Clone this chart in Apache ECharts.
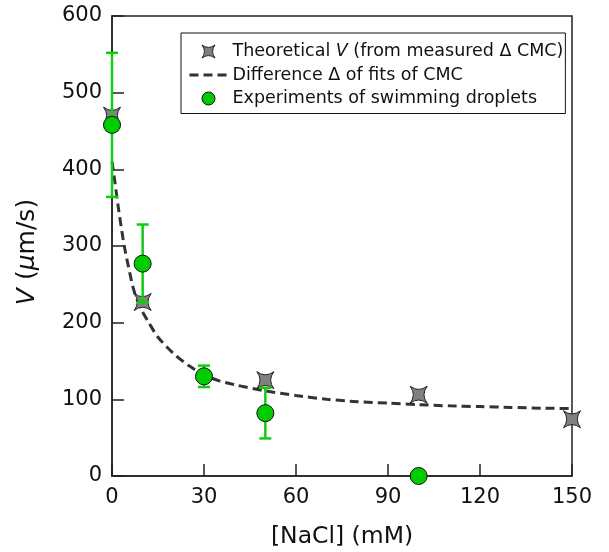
<!DOCTYPE html>
<html><head><meta charset="utf-8">
<script src="https://cdn.jsdelivr.net/npm/echarts@6/dist/echarts.min.js"></script>
<style>html,body{margin:0;padding:0;background:#fff}#c{width:609px;height:552px}</style>
</head><body><div id="c"></div>
<script>
// ---- data ----
var theoX = [0, 10, 50, 100, 150];
var theoV = [470, 227, 125, 106, 74];
var expX = [0, 10, 30, 50, 100];
var expV = [458, 277, 130, 82, 0];
var expErr = [94, 51, 14, 33, 0];
var fitX = [0, 1, 2, 3, 4, 5, 6, 7, 8, 10, 12, 15, 20, 25, 30, 35, 40, 50, 60, 70, 80, 90, 100, 110, 120, 130, 140, 150];
var fitV = [410, 382, 352, 325, 300, 280, 261, 244, 232, 214, 200, 181, 160, 144, 132, 124, 119, 111, 105, 100, 97, 95, 93, 91.5, 90.5, 89.5, 88.5, 88];
var xTicks = [0, 30, 60, 90, 120, 150];
var yTicks = [0, 100, 200, 300, 400, 500, 600];
var names = ['Theoretical V (from measured Δ CMC)', 'Difference Δ of fits of CMC', 'Experiments of swimming droplets'];

var FONT = 'DejaVu Sans';
var star = 'path://M0,0 Q8,6 16,0 Q10,8 16,16 Q8,10 0,16 Q6,8 0,0Z';
var green = '#11cc11';

var chart = echarts.init(document.getElementById('c'));
chart.setOption({
  animation: false,
  backgroundColor: '#fff',
  grid: {left: 112, right: 37, top: 16, bottom: 76, outerBoundsMode: 'none', containLabel: false,
    show: true, borderColor: '#222', borderWidth: 1.5, backgroundColor: 'transparent'},
  xAxis: {
    type: 'value', min: xTicks[0], max: xTicks[xTicks.length - 1], interval: 30,
    name: '[NaCl] (mM)', nameLocation: 'middle', nameGap: 49,
    nameTextStyle: {fontFamily: FONT, fontSize: 23.5, color: '#111'},
    axisLine: {lineStyle: {color: '#222', width: 1.5}},
    axisTick: {inside: true, length: 12, lineStyle: {color: '#222', width: 1.5}},
    axisLabel: {fontFamily: FONT, fontSize: 21, color: '#111', margin: 11},
    splitLine: {show: false}
  },
  yAxis: {
    type: 'value', min: yTicks[0], max: yTicks[yTicks.length - 1], interval: 100,
    name: '{i|V} ({i|μ}m/s)', nameLocation: 'middle', nameGap: 72,
    nameTextStyle: {fontFamily: FONT, fontSize: 25, color: '#111', padding: [0, 12, 0, 0],
      rich: {i: {fontFamily: FONT, fontSize: 25, fontStyle: 'italic', color: '#111'}}},
    axisLine: {show: true, lineStyle: {color: '#222', width: 1.5}},
    axisTick: {show: true, inside: true, length: 12, lineStyle: {color: '#222', width: 1.5}},
    axisLabel: {fontFamily: FONT, fontSize: 21, color: '#111', margin: 10},
    splitLine: {show: false}
  },
  legend: {
    orient: 'vertical', left: 181, top: 33,
    borderColor: '#111', borderWidth: 1, padding: [8.5, 2, 5, 7],
    itemWidth: 38, itemHeight: 13, itemGap: 3.5,
    textStyle: {fontFamily: FONT, fontSize: 17.5, color: '#111', lineHeight: 20,
      rich: {i: {fontFamily: FONT, fontSize: 17.5, fontStyle: 'italic', color: '#111', lineHeight: 20}}},
    formatter: function (n) { return n === names[0] ? 'Theoretical {i|V} (from measured Δ CMC)' : n; },
    data: [
      {name: names[0], icon: star, itemStyle: {color: '#808080', borderColor: '#222', borderWidth: 1}},
      {name: names[1], itemStyle: {opacity: 0}, lineStyle: {color: '#333', width: 3, type: [9, 5]}},
      {name: names[2], icon: 'circle', itemStyle: {color: '#00cc00', borderColor: '#111', borderWidth: 1}}
    ]
  },
  series: [
    {
      name: names[1], type: 'line', z: 2, symbol: 'none', smooth: 0.25,
      data: fitX.map(function (x, i) { return [x, fitV[i]]; }),
      lineStyle: {color: '#333', width: 3, type: [9, 5]},
      itemStyle: {color: '#333'}
    },
    {
      name: names[0], type: 'scatter', z: 3, symbol: star, symbolSize: 17,
      data: theoX.map(function (x, i) { return [x, theoV[i]]; }),
      itemStyle: {color: '#808080', borderColor: '#222', borderWidth: 1, opacity: 1}
    },
    {
      name: 'err', type: 'custom', z: 4, clip: false,
      data: expX.map(function (x, i) { return [x, expV[i], expErr[i]]; }),
      encode: {x: 0, y: 1},
      renderItem: function (params, api) {
        var x = api.value(0), v = api.value(1), e = api.value(2);
        if (!e) return null;
        var t = api.coord([x, v + e]), b = api.coord([x, v - e]);
        var st = {stroke: green, lineWidth: 2.5};
        return {type: 'group', children: [
          {type: 'line', shape: {x1: t[0], y1: t[1], x2: b[0], y2: b[1]}, style: st},
          {type: 'line', shape: {x1: t[0] - 6, y1: t[1], x2: t[0] + 6, y2: t[1]}, style: st},
          {type: 'line', shape: {x1: b[0] - 6, y1: b[1], x2: b[0] + 6, y2: b[1]}, style: st}
        ]};
      }
    },
    {
      name: names[2], type: 'scatter', z: 5, symbol: 'circle', symbolSize: 17, clip: false,
      data: expX.map(function (x, i) { return [x, expV[i]]; }),
      itemStyle: {color: '#00cc00', borderColor: '#111', borderWidth: 1, opacity: 1}
    }
  ]
});
</script></body></html>
